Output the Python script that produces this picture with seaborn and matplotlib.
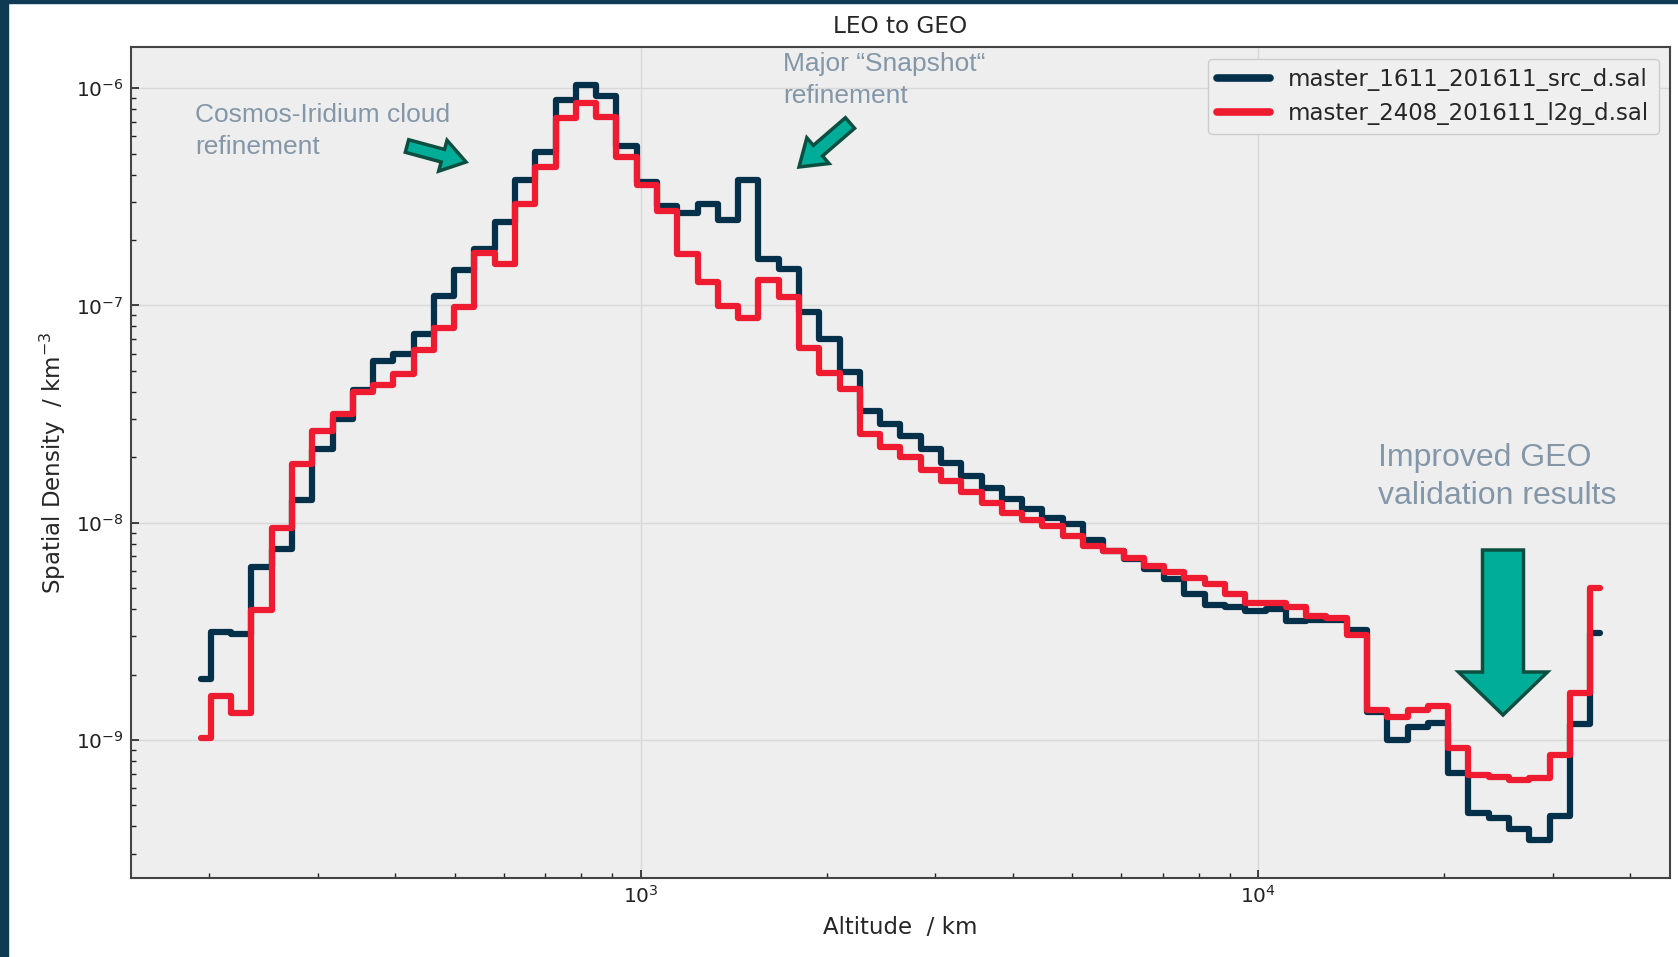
import numpy as np
import pandas as pd
import matplotlib
matplotlib.use("Agg")
import matplotlib.pyplot as plt
import seaborn as sns
from matplotlib.patches import FancyArrow, Rectangle
from matplotlib.transforms import IdentityTransform

# picture size in pixels
W, H = 1678, 957

# altitude bin centres (km), log-spaced
altitude = [194.0, 209.2, 225.6, 243.3, 262.4, 283.0, 305.2, 329.2, 355.0, 382.9,
            413.0, 445.4, 480.4, 518.1, 558.8, 602.7, 650.0, 701.0, 756.0, 815.5,
            879.6, 948.4, 1023, 1103, 1190, 1283, 1384, 1493, 1610, 1736,
            1873, 2020, 2179, 2350, 2534, 2733, 2948, 3180, 3429, 3698,
            3989, 4302, 4640, 5004, 5397, 5821, 6278, 6771, 7302, 7876,
            8494, 9161, 9880, 10656, 11493, 12396, 13369, 14419, 15550, 16772,
            18089, 19509, 21042, 22694, 24475, 26399, 28472, 30707, 33113, 35716]

# spatial density (km^-3), old population
density_1611 = [1.91e-9, 3.13e-9, 3.09e-9, 6.27e-9, 7.59e-9, 1.27e-8, 2.18e-8, 3.01e-8, 4.07e-8, 5.56e-8,
                5.96e-8, 7.38e-8, 1.10e-7, 1.46e-7, 1.82e-7, 2.41e-7, 3.79e-7, 5.07e-7, 8.86e-7, 1.035e-6,
                9.19e-7, 5.41e-7, 3.69e-7, 2.86e-7, 2.65e-7, 2.93e-7, 2.46e-7, 3.79e-7, 1.63e-7, 1.47e-7,
                9.29e-8, 7.00e-8, 4.94e-8, 3.27e-8, 2.84e-8, 2.51e-8, 2.18e-8, 1.88e-8, 1.64e-8, 1.45e-8,
                1.28e-8, 1.15e-8, 1.05e-8, 9.82e-9, 8.28e-9, 7.39e-9, 6.77e-9, 6.09e-9, 5.50e-9, 4.68e-9,
                4.20e-9, 4.10e-9, 3.92e-9, 4.01e-9, 3.52e-9, 3.56e-9, 3.58e-9, 3.20e-9, 1.35e-9, 1.00e-9,
                1.15e-9, 1.20e-9, 7.05e-10, 4.61e-10, 4.38e-10, 3.89e-10, 3.47e-10, 4.48e-10, 1.18e-9, 3.11e-9]

# spatial density (km^-3), new population
density_2408 = [1.02e-9, 1.59e-9, 1.33e-9, 3.96e-9, 9.49e-9, 1.86e-8, 2.63e-8, 3.15e-8, 4.00e-8, 4.30e-8,
                4.83e-8, 6.25e-8, 7.83e-8, 9.79e-8, 1.74e-7, 1.55e-7, 2.93e-7, 4.33e-7, 7.27e-7, 8.56e-7,
                7.35e-7, 4.81e-7, 3.57e-7, 2.71e-7, 1.72e-7, 1.28e-7, 9.96e-8, 8.71e-8, 1.31e-7, 1.09e-7,
                6.34e-8, 4.91e-8, 4.13e-8, 2.55e-8, 2.22e-8, 2.00e-8, 1.75e-8, 1.56e-8, 1.38e-8, 1.23e-8,
                1.11e-8, 1.03e-8, 9.64e-9, 8.67e-9, 7.80e-9, 7.39e-9, 6.90e-9, 6.29e-9, 5.95e-9, 5.58e-9,
                5.20e-9, 4.72e-9, 4.28e-9, 4.25e-9, 4.10e-9, 3.71e-9, 3.65e-9, 3.05e-9, 1.38e-9, 1.28e-9,
                1.37e-9, 1.43e-9, 9.18e-10, 6.92e-10, 6.75e-10, 6.51e-10, 6.68e-10, 8.55e-10, 1.65e-9, 5.01e-9]

files = ["master_1611_201611_src_d.sal", "master_2408_201611_l2g_d.sal"]
colors = ["#05304a", "#ee1b31"]
xticks = [1e3, 1e4]
yticks = [1e-9, 1e-8, 1e-7, 1e-6]

df = pd.DataFrame({
    "Altitude": altitude * 2,
    "Density": density_1611 + density_2408,
    "File": [files[0]] * len(altitude) + [files[1]] * len(altitude),
})

sns.set_theme(style="whitegrid", rc={
    "axes.facecolor": "#eeeeee",
    "axes.edgecolor": "#444444",
    "axes.linewidth": 1.5,
    "grid.color": "#d8d8d8",
    "grid.linewidth": 1.0,
    "xtick.direction": "in",
    "ytick.direction": "in",
    "xtick.bottom": True,
    "ytick.left": True,
    "xtick.color": "#222222",
    "ytick.color": "#222222",
})
plt.rcParams["font.family"] = ["DejaVu Sans"]

fig = plt.figure(figsize=(W / 100, H / 100), dpi=100)
fig.patch.set_facecolor("white")
ax = fig.add_axes([130.6 / W, 1 - 877.6 / H, (1670 - 130.6) / W, (877.6 - 47.1) / H])
ax.set_xscale("log")
ax.set_yscale("log")

sns.lineplot(data=df, x="Altitude", y="Density", hue="File", palette=colors,
             estimator=None, drawstyle="steps-mid", lw=4.5, ax=ax)

# only the decades inside the view get a label
ax.set_xticks(xticks)
ax.set_yticks(yticks)
ax.grid(True, which="major")
ax.grid(False, which="minor")
ax.tick_params(which="both", direction="in", top=False, right=False, labelsize=14.5)
ax.tick_params(which="major", length=6, width=1.2, pad=5)
ax.tick_params(which="minor", length=3.5, width=1.0)
for s in ax.spines.values():
    s.set_color("#444444")
    s.set_linewidth(1.5)

ax.set_title("LEO to GEO", fontsize=16.7, pad=10.5)
ax.set_xlabel("Altitude  / km", fontsize=16.5, labelpad=7)
ax.set_ylabel("Spatial Density  / km$^{-3}$", fontsize=16.5, labelpad=6)

old = ax.get_legend()
handles = old.legend_handles
labels = [t.get_text() for t in old.get_texts()]
leg = ax.legend(handles, labels, loc="upper right", fontsize=16.5, frameon=True,
                facecolor="#efefef", edgecolor="#cccccc", framealpha=1, handlelength=2.3)
for h in leg.legend_handles:
    h.set_linewidth(5.5)

# slide frame strips
fig.add_artist(Rectangle((0, 0), 8 / W, 1, transform=fig.transFigure, color="#0e3a53", zorder=0))
fig.add_artist(Rectangle((0, 1 - 3 / H), 1, 3 / H, transform=fig.transFigure, color="#0e3a53", zorder=0))

# annotations
note_color = "#8497a8"
fig.text(194.8 / W, 1 - 103 / H, "Cosmos-Iridium cloud\nrefinement", fontsize=19,
         family="Liberation Sans", color=note_color, va="top", ha="left", linespacing=1.42)
fig.text(783.4 / W, 1 - 52 / H, "Major \u201cSnapshot\u201c\nrefinement", fontsize=19,
         family="Liberation Sans", color=note_color, va="top", ha="left", linespacing=1.42)
fig.text(1378.4 / W, 1 - 443 / H, "Improved GEO\nvalidation results", fontsize=23,
         family="Liberation Sans", color=note_color, va="top", ha="left", linespacing=1.33)


def block_arrow(x0, y0, x1, y1, width, head_width, head_length):
    arr = FancyArrow(x0, H - y0, x1 - x0, -(y1 - y0), width=width, head_width=head_width,
                     head_length=head_length, length_includes_head=True,
                     transform=IdentityTransform(), facecolor="#00ad98",
                     edgecolor="#0c4f40", linewidth=2.5, zorder=10)
    fig.add_artist(arr)


block_arrow(407, 146, 466, 162, 13, 32, 24)
block_arrow(850, 123, 799, 167, 14, 34, 25)
block_arrow(1503, 550, 1503, 715, 41, 89, 43)

fig.savefig("out.png", dpi=100)
